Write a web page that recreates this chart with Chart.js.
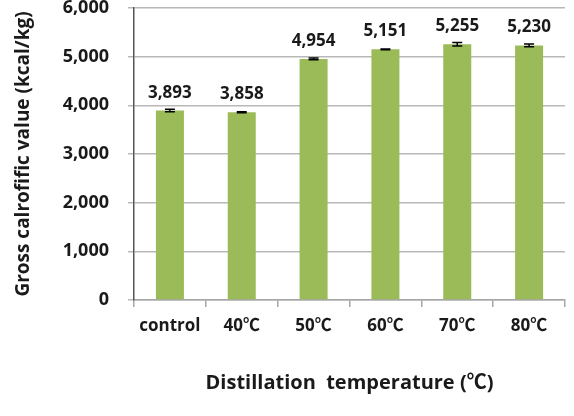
<!DOCTYPE html>
<html>
<head>
<meta charset="utf-8">
<script src="https://cdn.jsdelivr.net/npm/chart.js@4"></script>
<style>
  html, body { margin: 0; padding: 0; background: #fff; }
  #wrap { width: 574px; height: 416px; }
</style>
</head>
<body>
<div id="wrap"><canvas id="chart"></canvas></div>
<script>
// ── Data ──
const categories = ['control', '40\u2103', '50\u2103', '60\u2103', '70\u2103', '80\u2103'];
const values     = [3893, 3858, 4954, 5151, 5255, 5230];
const errors     = [25, 10, 18, 8, 35, 28];
const yTicks     = [0, 1000, 2000, 3000, 4000, 5000, 6000];

const FONT = "'Open Sans', 'Noto Sans CJK KR', sans-serif";
const TEXT = '#1a1a1a';

// ── Error bars + value labels ──
const barExtras = {
    id: 'barExtras',
    afterDatasetsDraw(chart) {
        const { ctx, scales: { y } } = chart;
        const meta = chart.getDatasetMeta(0);
        ctx.save();
        meta.data.forEach((bar, i) => {
            const top = y.getPixelForValue(values[i] + errors[i]);
            const bot = y.getPixelForValue(values[i] - errors[i]);
            ctx.strokeStyle = '#000';
            ctx.lineWidth = 1.5;
            ctx.beginPath();
            ctx.moveTo(bar.x, top); ctx.lineTo(bar.x, bot);
            ctx.moveTo(bar.x - 5, top); ctx.lineTo(bar.x + 5, top);
            ctx.moveTo(bar.x - 5, bot); ctx.lineTo(bar.x + 5, bot);
            ctx.stroke();

            ctx.fillStyle = TEXT;
            ctx.font = `bold 17px ${FONT}`;
            ctx.textAlign = 'center';
            ctx.textBaseline = 'alphabetic';
            ctx.fillText(values[i].toLocaleString('en-US'), bar.x, bar.y - 13);
        });
        ctx.restore();
    }
};

new Chart(document.getElementById('chart'), {
    type: 'bar',
    data: {
        labels: categories,
        datasets: [{
            data: values,
            backgroundColor: '#9bbb59',
            borderWidth: 0,
            barPercentage: 0.39,
            categoryPercentage: 1
        }]
    },
    options: {
        responsive: true,
        maintainAspectRatio: false,
        animation: false,
        layout: { padding: { top: 8, right: 9, left: 0, bottom: 0 } },
        plugins: {
            legend: { display: false },
            tooltip: { enabled: false }
        },
        scales: {
            x: {
                afterFit: s => { s.height = 116; s.paddingLeft = 0; s.paddingRight = 0; },
                grid: {
                    offset: true,
                    color: c => c.index === categories.length ? '#a6a6a6' : 'rgba(0,0,0,0)',
                    tickColor: '#a6a6a6',
                    tickLength: 7,
                    lineWidth: 1.5
                },
                border: { color: '#a6a6a6', width: 1.5 },
                ticks: {
                    color: TEXT,
                    padding: 9,
                    font: { family: FONT, size: 17, weight: 'bold' }
                },
                title: {
                    display: true,
                    text: 'Distillation  temperature (\u2103)',
                    color: TEXT,
                    font: { family: FONT, size: 20, weight: 'bold' },
                    padding: { top: 0, bottom: 21 }
                }
            },
            y: {
                min: 0,
                max: 6000,
                afterFit: s => { s.width = 134; s.paddingTop = 0; s.paddingBottom = 0; },
                afterBuildTicks: s => { s.ticks = yTicks.map(v => ({ value: v })); },
                grid: { color: '#b8b8b8', lineWidth: 1.5, tickLength: 6 },
                border: { color: '#555', width: 1.5 },
                ticks: {
                    color: TEXT,
                    padding: 19,
                    font: { family: FONT, size: 18, weight: 'bold' },
                    callback: v => v.toLocaleString('en-US')
                },
                title: {
                    display: true,
                    text: 'Gross calrofific value (kcal/kg)',
                    color: TEXT,
                    font: { family: FONT, size: 19, weight: 'bold' },
                    padding: { top: 12, bottom: 0 }
                }
            }
        }
    },
    plugins: [barExtras]
});
</script>
</body>
</html>
